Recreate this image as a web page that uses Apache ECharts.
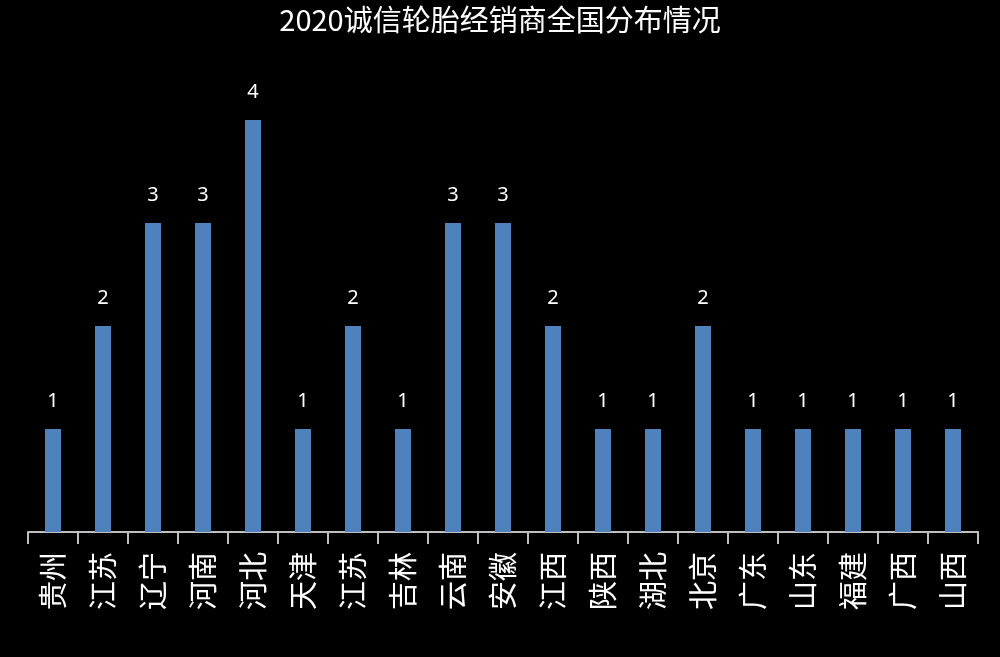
<!DOCTYPE html><html><head><meta charset="utf-8"><script src="https://cdn.jsdelivr.net/npm/echarts@6/dist/echarts.min.js"></script></head><body style="margin:0;background:#000"><div id="c" style="width:1000px;height:657px"></div><script>
const categories=['贵州','江苏','辽宁','河南','河北','天津','江苏','吉林','云南','安徽','江西','陕西','湖北','北京','广东','山东','福建','广西','山西'];
const values=[1,2,3,3,4,1,2,1,3,3,2,1,1,2,1,1,1,1,1];
const ch=echarts.init(document.getElementById('c'));
ch.setOption({backgroundColor:'#000',animation:false,
title:{text:'2020诚信轮胎经销商全国分布情况',left:'center',top:0,textStyle:{color:'#fff',fontSize:29,fontWeight:'normal',fontFamily:'Noto Sans CJK SC'}},
grid:{left:28,right:22,top:120,bottom:125},
xAxis:{type:'category',data:categories,boundaryGap:true,axisLine:{show:true,lineStyle:{color:'#bfbfbf',width:2}},axisTick:{show:true,interval:0,length:12,lineStyle:{color:'#bfbfbf',width:2}},
axisLabel:{rotate:90,color:'#fff',fontSize:29,margin:20,fontFamily:'Noto Sans CJK SC',interval:0}},
yAxis:{type:'value',min:0,max:4,show:false,splitLine:{show:false}},
series:[{type:'bar',data:values,barWidth:16,itemStyle:{color:'#4f81bd'},label:{show:true,position:'top',color:'#fff',fontSize:20,distance:18,fontFamily:'Noto Sans'}}]});
</script></body></html>
